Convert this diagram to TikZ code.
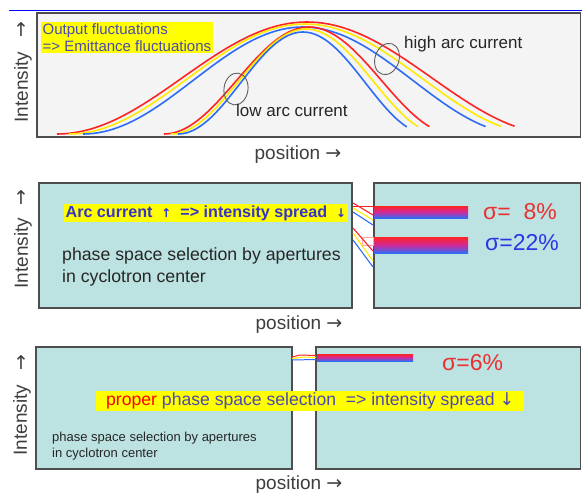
\documentclass[tikz,border=0pt]{standalone}
\usepackage{fontspec}
\setmainfont{Liberation Sans}
\newfontfamily\arrowfont{DejaVu Sans}
\usetikzlibrary{positioning}
\definecolor{ink}{HTML}{4E4E4E}
\definecolor{paper}{HTML}{F4F4F4}
\definecolor{aqua}{HTML}{BDE2E2}
\definecolor{hilite}{HTML}{FFFF00}
\definecolor{cred}{HTML}{FF2424}
\definecolor{cyel}{HTML}{FFEA00}
\definecolor{cblu}{HTML}{2F6CF4}
\definecolor{cmid}{HTML}{D02A9A}
\definecolor{navy}{HTML}{3434C8}
\definecolor{slate}{HTML}{4A4AB0}
\definecolor{sred}{HTML}{EA3030}
\definecolor{sblu}{HTML}{2A36E6}
\tikzset{
  panel/.style={draw=ink, line width=1.3pt},
  curve/.style={line width=1.6pt, line join=round},
  ring/.style={draw=ink!90, line width=0.9pt},
  axlbl/.style={font=\fontsize{19}{21}\selectfont, text=ink!80!black, inner sep=0pt},
  lbl/.style={font=\fontsize{17}{22}\selectfont, text=black!85, inner sep=0pt, align=left},
  tag/.style={fill=hilite, inner sep=1.5pt, align=left},
  sig/.style={font=\fontsize{23}{25}\selectfont, inner sep=0pt, anchor=west},
  beam/.style={top color=cred, bottom color=cblu, middle color=cmid},
}
\newcommand\arr[1]{{\arrowfont #1}}
% one raised-cosine pulse: colour, centre, half width, peak
\newcommand\arcpulse[4]{%
  \pgfmathsetmacro\pa{#2-#3}\pgfmathsetmacro\pb{#2+0.83*#3}%
  \draw[curve, draw=#1] plot[domain=\pa:\pb, samples=80]
    (\x, {134-(134-#4)*(1+cos((\x-#2)/#3*180))/2});
}

\begin{document}
\begin{tikzpicture}[x=1pt, y=-1pt]
\useasboundingbox (0,0) rectangle (582,498);
\fill[white] (0,0) rectangle (582,498);

% pulses
\draw[blue, line width=1.3pt] (9,10.5) -- (582,10.5);
\draw[panel, fill=paper] (37,13) rectangle (580.5,137);
\arcpulse{cred}{307}{250}{22}
\arcpulse{cyel}{305}{236}{24}
\arcpulse{cblu}{303}{220}{27}
\arcpulse{cred}{309}{145}{27}
\arcpulse{cyel}{306}{135}{29}
\arcpulse{cblu}{303}{125}{32}
\draw[ring] (236,89) ellipse [x radius=12pt, y radius=16pt, rotate=-8];
\draw[ring] (387,59) ellipse [x radius=12pt, y radius=16pt, rotate=-18];
\node[tag, anchor=north west, text=slate, font=\fontsize{15}{17}\selectfont] (fluct) at (41,22)
  {Output fluctuations\\=> Emittance fluctuations};
\node[lbl, anchor=west] (low) at (236,110) {low arc current};
\node[lbl, anchor=west] (high) at (404,44) {high arc current};
\node[axlbl] (up1) at (21,30) {\arr{↑}};
\node[axlbl, rotate=90] (int1) at (23,87) {Intensity};
\node[axlbl] (pos1) at (298,155) {position \arr{→}};

% apertures, two spreads
\draw[panel, fill=aqua] (39,183) rectangle (352,308);
\draw[panel, fill=aqua] (374,183) rectangle (580.5,308);
\draw[cred, line width=0.9pt] (353,206) -- (373,206);
\draw[cred, line width=1.1pt] (353,203) -- (373,215);
\draw[cyel, line width=1.1pt] (353,208) -- (373,220);
\draw[cblu, line width=1.1pt] (353,212) -- (373,225);
\draw[cred!40, line width=0.8pt] (362,237) rectangle (373,245);
\draw[cred, line width=1.1pt] (353,228) -- (373,251);
\draw[cyel, line width=1.1pt] (353,233) -- (373,261);
\draw[cblu, line width=1.1pt] (353,240) -- (373,267);
\shade[beam] (374,206) rectangle (468,218);
\shade[beam] (374,237) rectangle (468,253);
\node[sig, text=sred] (s8) at (483,212) {σ=\hphantom{2}8\%};
\node[sig, text=sblu] (s22) at (485,243) {σ=22\%};
\node[tag, anchor=west, text=navy, font=\fontsize{16.1}{19}\selectfont\bfseries] (arc) at (64,213)
  {Arc current\ \ {\fontsize{12}{13}\selectfont\arr{↑}}\ \ => intensity spread\ \ {\fontsize{12}{13}\selectfont\arr{↓}}};
\node[lbl, anchor=north west, font=\fontsize{17.7}{22}\selectfont] (sel2) at (62,247) {phase space selection by apertures\\in cyclotron center};
\node[axlbl] (up2) at (21,198) {\arr{↑}};
\node[axlbl, rotate=90] (int2) at (23,253) {Intensity};
\node[axlbl] (pos2) at (299,325) {position \arr{→}};

% proper selection
\draw[panel, fill=aqua] (36,347) rectangle (292,469);
\draw[panel, fill=aqua] (316,347) rectangle (580.5,469);
\draw[cred, line width=1pt] (292,357) -- (300,355) -- (316,355.5);
\draw[cyel, line width=1pt] (292,358.5) -- (304,357) -- (316,357.5);
\draw[cblu, line width=1pt] (292,360) -- (316,359.5);
\shade[beam] (317,354) rectangle (413,361);
\node[sig, text=sred] (s6) at (442,363) {σ=6\%};
\node[tag, anchor=west, inner xsep=10pt, inner ysep=2pt, text=slate, font=\fontsize{17.6}{19}\selectfont] (prop) at (96,401)
  {\textcolor{red}{proper} phase space selection\ \ => intensity spread \arr{↓}};
\node[lbl, anchor=north west, font=\fontsize{13}{16}\selectfont] (sel3) at (52,432) {phase space selection by apertures\\in cyclotron center};
\node[axlbl] (up3) at (21,363) {\arr{↑}};
\node[axlbl, rotate=90] (int3) at (22,420) {Intensity};
\node[axlbl] (pos3) at (299,485) {position \arr{→}};
\end{tikzpicture}
\end{document}
